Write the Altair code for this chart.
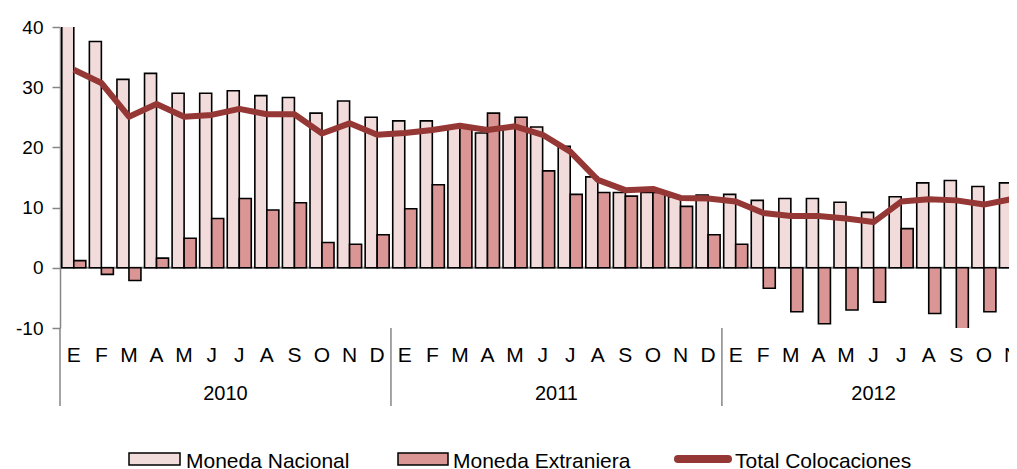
import altair as alt
import pandas as pd

month_letters = ["E", "F", "M", "A", "M", "J", "J", "A", "S", "O", "N", "D"]
years = ["2010", "2011", "2012"]
series_names = ["Moneda Nacional", "Moneda Extraniera", "Total Colocaciones"]

moneda_nacional = [
    45.0, 37.6, 31.3, 32.3, 29.0, 29.0, 29.4, 28.6, 28.3, 25.7, 27.7, 25.0,
    24.4, 24.4, 23.5, 22.4, 23.2, 23.4, 20.2, 15.1, 12.5, 12.5, 11.8, 12.1,
    12.2, 11.2, 11.5, 11.5, 10.9, 9.2, 11.8, 14.1, 14.5, 13.5, 14.1,
]
moneda_extranjera = [
    1.2, -1.1, -2.1, 1.6, 4.9, 8.2, 11.5, 9.6, 10.8, 4.2, 3.9, 5.5,
    9.8, 13.8, 23.3, 25.7, 25.0, 16.1, 12.2, 12.5, 11.9, 12.5, 10.2, 5.5,
    3.9, -3.4, -7.3, -9.3, -7.0, -5.7, 6.5, -7.6, -11.0, -7.3, -8.7,
]
total_colocaciones = [
    32.9, 30.7, 25.1, 27.2, 25.1, 25.4, 26.4, 25.5, 25.5, 22.3, 24.0, 22.1,
    22.4, 22.9, 23.6, 22.9, 23.5, 22.1, 19.3, 14.6, 12.9, 13.1, 11.6, 11.5,
    11.0, 9.1, 8.6, 8.6, 8.2, 7.6, 11.0, 11.4, 11.2, 10.5, 11.4,
]

n = len(moneda_nacional)
df = pd.DataFrame({
    "i": list(range(n)),
    "mes": [month_letters[k % 12] for k in range(n)],
    "anio": [years[k // 12] for k in range(n)],
    "mn": moneda_nacional,
    "me": moneda_extranjera,
    "total": total_colocaciones,
})
df["c"] = df["i"] + 0.5
sep_df = pd.DataFrame({"s": [k * 12 for k in range(len(years))]})

# plot area: 949 px wide, one month = 27.58 px
W, H = 949, 301
X_MAX = 34.41
FONT = "Liberation Sans"
GRAY = "#868686"
C_MN = "#F2DCDB"
C_ME = "#D99694"
C_TOT = "#953735"

x_scale = alt.Scale(domain=[0, X_MAX], nice=False, zero=False, padding=0)
y_scale = alt.Scale(domain=[-10, 40], nice=False, padding=0)
y_axis = alt.Axis(values=[-10, 0, 10, 20, 30, 40], tickSize=8, tickColor=GRAY,
                  domainColor=GRAY, tickWidth=1.5, domainWidth=1.5,
                  labelFontSize=19, labelFont=FONT, labelColor="black",
                  labelPadding=9, grid=False, title=None,
                  labelExpr="toString(datum.value)")
x_enc = alt.X("c:Q", scale=x_scale, axis=None)

base = alt.Chart(df)

bars_mn = base.mark_bar(width=12, xOffset=-6, fill=C_MN, stroke="black",
                        strokeWidth=1.6, clip=True, orient="vertical").encode(
    x=x_enc,
    y=alt.Y("mn:Q", scale=y_scale, axis=y_axis),
    y2=alt.datum(0),
)
bars_me = base.mark_bar(width=12, xOffset=6, fill=C_ME, stroke="black",
                        strokeWidth=1.6, clip=True, orient="vertical").encode(
    x=x_enc,
    y=alt.Y("me:Q", scale=y_scale, axis=y_axis),
    y2=alt.datum(0),
)
zero_rule = alt.Chart(pd.DataFrame({"v": [0]})).mark_rule(
    color=GRAY, strokeWidth=2).encode(
    y=alt.Y("v:Q", scale=y_scale, axis=y_axis))

line = base.mark_line(color=C_TOT, strokeWidth=6, strokeJoin="round",
                      clip=True).encode(
    x=x_enc,
    y=alt.Y("total:Q", scale=y_scale, axis=y_axis),
)

seps = alt.Chart(sep_df).mark_rule(color=GRAY, strokeWidth=1.5).encode(
    x=alt.X("s:Q", scale=x_scale, axis=None),
    y=alt.value(H), y2=alt.value(H + 78),
)

month_text = base.mark_text(font=FONT, fontSize=21, baseline="middle",
                            color="black").encode(
    x=x_enc, y=alt.value(329), text="mes:N")

year_text = base.transform_aggregate(
    cx="mean(c)", groupby=["anio"]).mark_text(
    font=FONT, fontSize=20, baseline="middle", color="black").encode(
    x=alt.X("cx:Q", scale=x_scale, axis=None), y=alt.value(367), text="anio:N")


def one(label):
    return alt.Chart(alt.Data(values=[{"label": label}]))


leg_y0, leg_y1, leg_base = 426, 438, 441
leg = [
    one(series_names[0]).mark_rect(fill=C_MN, stroke="black", strokeWidth=1.5).encode(
        x=alt.value(69), x2=alt.value(120), y=alt.value(leg_y0), y2=alt.value(leg_y1)),
    one(series_names[0]).mark_text(font=FONT, fontSize=21, align="left",
                                   baseline="alphabetic").encode(
        x=alt.value(126), y=alt.value(leg_base), text="label:N"),
    one(series_names[1]).mark_rect(fill=C_ME, stroke="black", strokeWidth=1.5).encode(
        x=alt.value(338), x2=alt.value(388), y=alt.value(leg_y0), y2=alt.value(leg_y1)),
    one(series_names[1]).mark_text(font=FONT, fontSize=21, align="left",
                                   baseline="alphabetic").encode(
        x=alt.value(393), y=alt.value(leg_base), text="label:N"),
    one(series_names[2]).mark_rule(color=C_TOT, strokeWidth=8, strokeCap="round").encode(
        x=alt.value(618), x2=alt.value(668), y=alt.value(432)),
    one(series_names[2]).mark_text(font=FONT, fontSize=21, align="left",
                                   baseline="alphabetic").encode(
        x=alt.value(675), y=alt.value(leg_base), text="label:N"),
]

chart = alt.layer(
    zero_rule, bars_mn, bars_me, line, seps, month_text, year_text, *leg
).properties(
    width=W, height=H,
    autosize=alt.AutoSizeParams(type="none"),
    padding={"left": 52, "top": 19, "right": 0, "bottom": 141},
    background="white",
).configure_view(stroke=None).configure_axis(grid=False)

chart.save("out.html", embed_options={"renderer": "svg", "actions": False})
